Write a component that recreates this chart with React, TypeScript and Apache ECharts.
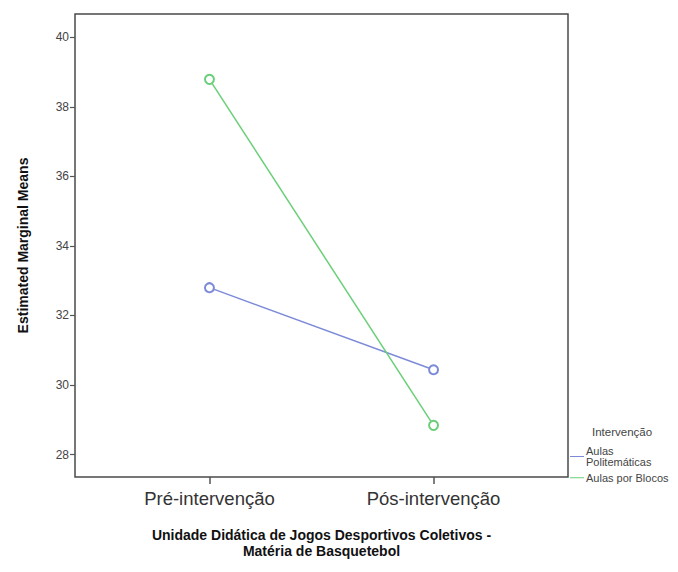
import React, { useEffect, useRef } from "react";
import * as echarts from "echarts";

const categories = ["Pré-intervenção", "Pós-intervenção"];
const seriesNames = ["Aulas Politemáticas", "Aulas por Blocos"];
const politematicas = [32.8, 30.44];
const blocos = [38.79, 28.84];
const yTicks = [28, 30, 32, 34, 36, 38, 40];
const colors = ["#7C8AD8", "#6ACF78"];

export default function App() {
  const ref = useRef<HTMLDivElement>(null);
  useEffect(() => {
    if (!ref.current) return;
    const chart = echarts.init(ref.current, undefined, { renderer: "svg" });
    const font = "Arial, 'Liberation Sans', sans-serif";
    const mk = (name: string, vals: number[], color: string) => ({
      name,
      type: "line",
      data: vals.map((v, i) => [i, v]),
      symbol: "emptyCircle",
      symbolSize: 9,
      lineStyle: { color, width: 1.5 },
      itemStyle: { color, borderColor: color, borderWidth: 1.5 },
    });
    chart.setOption({
      animation: false,
      backgroundColor: "#fff",
      textStyle: { fontFamily: font },
      grid: {
        left: 58,
        right: 102,
        top: 6,
        bottom: 75,
        show: true,
        borderColor: "#4a4a4a",
        borderWidth: 1.5,
        backgroundColor: "transparent",
      },
      xAxis: {
        type: "value",
        min: -0.6,
        max: 1.6,
        name: "Unidade Didática de Jogos Desportivos Coletivos -\nMatéria de Basquetebol",
        nameLocation: "middle",
        nameGap: 50,
        nameTextStyle: { fontWeight: "bold", fontSize: 14, color: "#111", lineHeight: 16, fontFamily: font },
        axisLine: { show: false, onZero: false },
        splitLine: { show: false },
        axisTick: { show: true, length: 7, customValues: [0, 1], lineStyle: { color: "#555", width: 1.5 } },
        axisLabel: {
          customValues: [0, 1],
          formatter: (v: number) => categories[Math.round(v)] ?? "",
          fontSize: 18.5,
          color: "#333",
          margin: 12,
          fontFamily: font,
        },
      },
      yAxis: {
        type: "value",
        min: 27.355,
        max: 40.67,
        name: "Estimated Marginal Means",
        nameLocation: "middle",
        nameGap: 45,
        nameTextStyle: { fontWeight: "bold", fontSize: 14, color: "#111", fontFamily: font },
        axisLine: { show: false, onZero: false },
        splitLine: { show: false },
        axisTick: { show: true, length: 5, customValues: yTicks, lineStyle: { color: "#555", width: 1.2 } },
        axisLabel: { customValues: yTicks, fontSize: 12, color: "#444", margin: 6, fontFamily: font },
      },
      legend: {
        orient: "vertical",
        left: 562,
        top: 437,
        itemWidth: 14,
        itemHeight: 1,
        itemGap: 4,
        padding: 0,
        icon: "rect",
        itemStyle: { borderWidth: 0 },
        data: seriesNames,
        formatter: (n: string) => (n === "Aulas Politemáticas" ? "Aulas\nPolitemáticas" : n),
        textStyle: { fontSize: 11, color: "#444", padding: [0, 0, 0, -3], lineHeight: 11.5, fontFamily: font },
      },
      graphic: [
        {
          type: "text",
          left: 584,
          top: 418,
          style: { text: "Intervenção", fontSize: 11.5, fill: "#444", fontFamily: font },
        },
      ],
      series: [mk(seriesNames[0], politematicas, colors[0]), mk(seriesNames[1], blocos, colors[1])],
    });
    return () => chart.dispose();
  }, []);
  return <div ref={ref} style={{ width: 662, height: 556 }} />;
}
